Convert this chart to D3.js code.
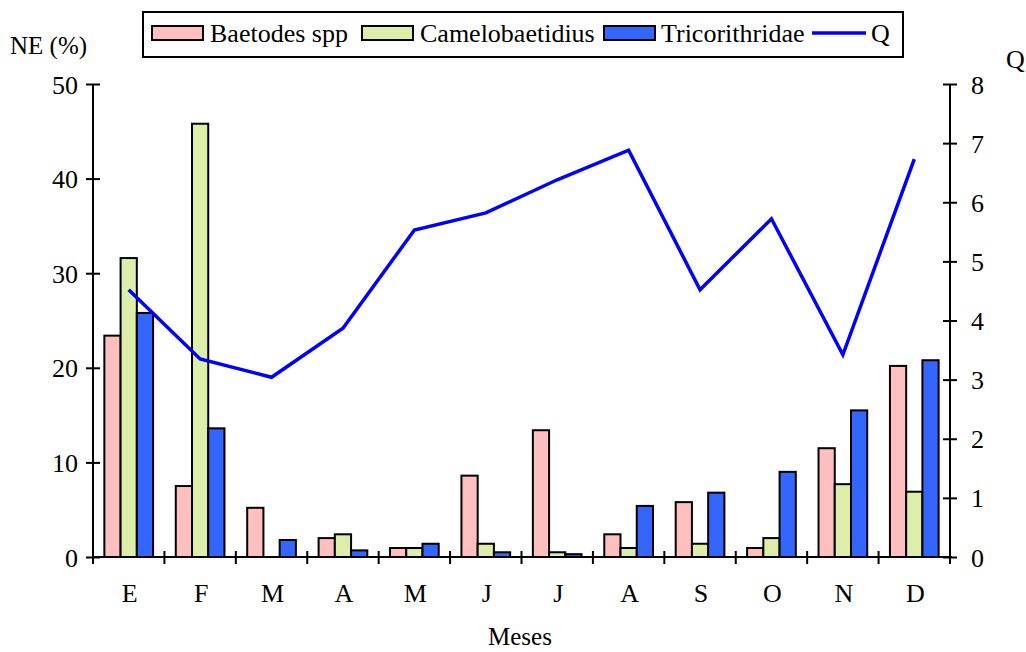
<!DOCTYPE html>
<html>
<head>
<meta charset="utf-8">
<script src="https://cdn.jsdelivr.net/npm/d3@7"></script>
<style>
  html, body { margin: 0; padding: 0; background: #fff; }
  svg { display: block; }
  svg text { font-family: "Liberation Serif", "Times New Roman", serif !important; fill: #000; }
</style>
</head>
<body>
<svg id="chart" width="1026" height="652"></svg>
<script>
// Monthly relative abundance (NE %) of three mayfly taxa and discharge Q
const months = ["E", "F", "M", "A", "M", "J", "J", "A", "S", "O", "N", "D"];
const seriesNames = ["Baetodes spp", "Camelobaetidius", "Tricorithridae"];
const baetodes = [23.4, 7.5, 5.2, 2.0, 0.95, 8.6, 13.4, 2.4, 5.8, 0.95, 11.5, 20.2];
const camelobaetidius = [31.6, 45.8, 0, 2.4, 0.95, 1.4, 0.5, 0.95, 1.4, 2.0, 7.7, 6.9];
const tricorithridae = [25.8, 13.6, 1.8, 0.7, 1.4, 0.5, 0.3, 5.4, 6.8, 9.0, 15.5, 20.8];
const discharge = [4.52, 3.35, 3.04, 3.87, 5.53, 5.82, 6.38, 6.88, 4.52, 5.72, 3.42, 6.73];
const leftTicks = [0, 10, 20, 30, 40, 50];
const rightTicks = [0, 1, 2, 3, 4, 5, 6, 7, 8];

const colors = ["#ffbfbf", "#ddedaa", "#3366ff"];
const lineColor = "#0000ff";
const serif = "'Liberation Serif', 'Times New Roman', serif";

const svg = d3.select("#chart");
const plotLeft = 93, plotRight = 950, plotTop = 84, plotBottom = 557;

const x = d3.scaleBand().domain(d3.range(months.length)).range([plotLeft, plotRight]);
const xi = d3.scaleBand().domain(seriesNames).range([0, x.bandwidth()]).paddingOuter(0.7);
const yL = d3.scaleLinear().domain([0, 50]).range([plotBottom, plotTop]);
const yR = d3.scaleLinear().domain([0, 8]).range([plotBottom, plotTop]);

const table = months.map((m, i) => ({
  i, values: [baetodes[i], camelobaetidius[i], tricorithridae[i]]
}));

// Bars
const groups = svg.append("g").selectAll("g").data(table).join("g")
  .attr("transform", d => `translate(${x(d.i)},0)`);
groups.selectAll("rect")
  .data(d => d.values.map((v, k) => ({ k, v })).filter(e => e.v > 0))
  .join("rect")
  .attr("x", e => xi(seriesNames[e.k]))
  .attr("width", xi.bandwidth())
  .attr("y", e => yL(e.v))
  .attr("height", e => yL(0) - yL(e.v))
  .attr("fill", e => colors[e.k])
  .attr("stroke", "#000")
  .attr("stroke-width", 2);

// Discharge line
const line = d3.line()
  .x((d, i) => x(i) + x.bandwidth() / 2)
  .y(d => yR(d));
svg.append("path").datum(discharge)
  .attr("d", line)
  .attr("fill", "none")
  .attr("stroke", lineColor)
  .attr("stroke-width", 3.5)
  .attr("stroke-linejoin", "miter");

// Left axis
const axL = svg.append("g").attr("transform", `translate(${plotLeft},0)`)
  .call(d3.axisLeft(yL).tickValues(leftTicks).tickSize(7).tickPadding(8))
  .attr("font-family", serif);
axL.select(".domain").remove();
axL.selectAll(".tick line").attr("x1", -7).attr("x2", 7).attr("stroke", "#000").attr("stroke-width", 2);
axL.selectAll(".tick text").attr("font-size", 26).attr("dy", "0.35em");
axL.append("line").attr("x1", 0).attr("x2", 0).attr("y1", plotTop).attr("y2", plotBottom + 7)
  .attr("stroke", "#000").attr("stroke-width", 2);

// Right axis
const axR = svg.append("g").attr("transform", `translate(${plotRight},0)`)
  .call(d3.axisRight(yR).tickValues(rightTicks).tickSize(7).tickPadding(14))
  .attr("font-family", serif);
axR.select(".domain").remove();
axR.selectAll(".tick line").attr("x1", -7).attr("x2", 7).attr("stroke", "#000").attr("stroke-width", 2);
axR.selectAll(".tick text").attr("font-size", 26).attr("dy", "0.35em");
axR.append("line").attr("x1", 0).attr("x2", 0).attr("y1", plotTop).attr("y2", plotBottom + 7)
  .attr("stroke", "#000").attr("stroke-width", 2);

// Bottom axis: boundary ticks crossing the baseline, month labels centred in bands
const axB = svg.append("g");
axB.append("line").attr("x1", plotLeft).attr("x2", plotRight + 2).attr("y1", plotBottom).attr("y2", plotBottom)
  .attr("stroke", "#000").attr("stroke-width", 2);
axB.selectAll("line.bt").data(d3.range(months.length + 1)).join("line").attr("class", "bt")
  .attr("x1", i => plotLeft + i * x.step()).attr("x2", i => plotLeft + i * x.step())
  .attr("y1", plotBottom - 6).attr("y2", plotBottom + 7)
  .attr("stroke", "#000").attr("stroke-width", 2);
axB.selectAll("text.mon").data(months).join("text").attr("class", "mon")
  .attr("x", (m, i) => x(i) + x.bandwidth() / 2 + 1)
  .attr("y", 602)
  .attr("text-anchor", "middle")
  .attr("font-size", 26)
  .text(m => m);

// Axis titles
svg.append("text").attr("x", 520).attr("y", 645).attr("text-anchor", "middle")
  .attr("font-size", 25).text("Meses");
svg.append("text").attr("x", 10).attr("y", 54).attr("font-size", 25).text("NE (%)");
svg.append("text").attr("x", 1006).attr("y", 68).attr("font-size", 26).text("Q");

// Legend
const lg = svg.append("g");
lg.append("rect").attr("x", 143).attr("y", 12).attr("width", 760).attr("height", 45)
  .attr("fill", "#fff").attr("stroke", "#000").attr("stroke-width", 2);
const legendItems = [
  { name: seriesNames[0], type: "rect", color: colors[0], sx: 152, tx: 210 },
  { name: seriesNames[1], type: "rect", color: colors[1], sx: 362, tx: 420 },
  { name: seriesNames[2], type: "rect", color: colors[2], sx: 604, tx: 661 },
  { name: "Q", type: "line", color: lineColor, sx: 812, tx: 871 }
];
legendItems.forEach(it => {
  if (it.type === "rect") {
    lg.append("rect").attr("x", it.sx).attr("y", 26).attr("width", 51).attr("height", 14)
      .attr("fill", it.color).attr("stroke", "#000").attr("stroke-width", 2);
  } else {
    lg.append("line").attr("x1", it.sx).attr("x2", it.sx + 54).attr("y1", 33).attr("y2", 33)
      .attr("stroke", it.color).attr("stroke-width", 3.5);
  }
  lg.append("text").attr("x", it.tx).attr("y", 42).attr("font-size", 26).text(it.name);
});

svg.selectAll("text").style("font-family", serif);
</script>
</body>
</html>
